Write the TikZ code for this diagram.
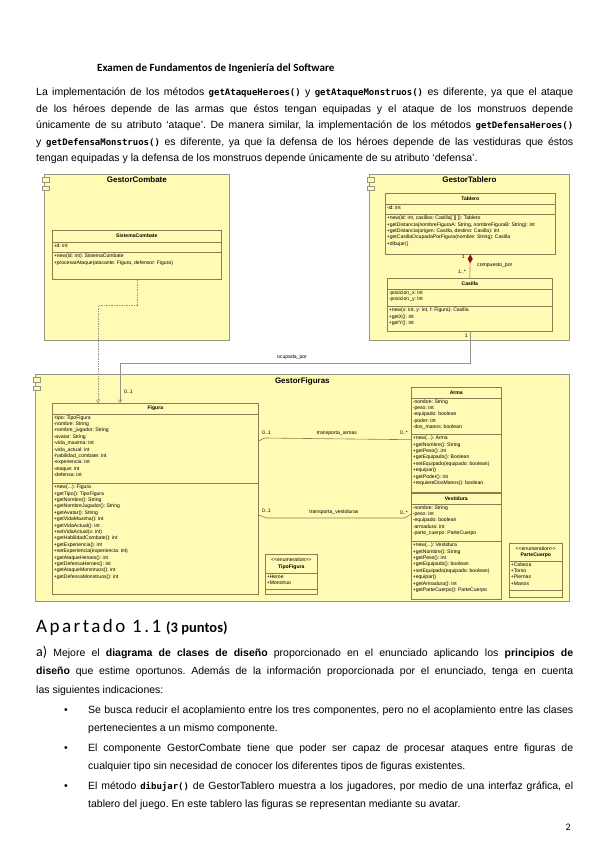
\documentclass[tikz,border=0pt]{standalone}
\usepackage{fontspec}
\setmainfont{Liberation Sans}
\newfontfamily\calibri{Carlito}
\newfontfamily\calibriwide[LetterSpace=13]{Carlito}
\newfontfamily\codefnt{DejaVu Sans Mono}
\usetikzlibrary{shapes.multipart, arrows.meta, positioning, calc}
\definecolor{compfill}{RGB}{255,251,180}
\definecolor{compline}{RGB}{150,150,132}
\definecolor{classline}{RGB}{140,125,80}
\definecolor{diamondred}{RGB}{140,20,25}
\DeclareRobustCommand{\code}[1]{{\codefnt\bfseries\fontsize{9}{10}\selectfont #1}}
\newcommand{\ctitle}[3]{\parbox[t][#2pt][c]{#1pt}{\centering\bfseries #3}}
\newcommand{\cbody}[3]{\parbox[t][#2pt][t]{#1pt}{\raggedright\vspace{0.5pt}\strut #3}}
\frenchspacing

\begin{document}
\begin{tikzpicture}[
    x=1pt, y=-1pt,
    comp/.style={draw=compline, fill=compfill, line width=0.7pt, anchor=north west, inner sep=0pt},
    comptitle/.style={font=\bfseries\fontsize{8}{9}\selectfont, inner sep=0pt},
    compicon/.style={draw=compline, fill=compfill, line width=0.5pt, minimum width=7pt, minimum height=4.5pt, inner sep=0pt},
    umlclass/.style={draw=classline, fill=compfill, line width=0.6pt, rectangle split, rectangle split parts=3, inner xsep=1.5pt, inner ysep=0pt, anchor=north west, font=\fontsize{5.1}{6.4}\selectfont},
    mult/.style={font=\fontsize{5.1}{6}\selectfont, inner sep=0pt},
    assoc/.style={draw=classline, line width=0.6pt},
    link/.style={draw=compline, line width=0.6pt, -{Straight Barb[length=3pt,width=4pt]}},
    dep/.style={draw=compline, dash pattern=on 1.5pt off 1pt, line width=0.6pt, -{Straight Barb[length=3pt,width=4pt]}},
    compo/.style={draw=classline, line width=0.6pt, {Diamond[length=9pt,width=5pt,fill=diamondred,color=diamondred]}-},
    body/.style={font=\fontsize{10.5}{16.4}\selectfont, align=justify, text width=537pt, inner sep=0pt, anchor=base west},
    itemtext/.style={body, text width=485pt, font=\fontsize{10.5}{18.7}\selectfont}
]
\useasboundingbox[fill=white] (0,0) rectangle (600,848);

\node[font=\calibri\bfseries\fontsize{11}{12}\selectfont, anchor=base west, inner sep=0pt] (header) at (97,72) {Examen de Fundamentos de Ingeniería del Software};

\node[body] (intro) at (36,96) {La implementación de los métodos \code{getAtaqueHeroes()} y \code{getAtaqueMonstruos()} es diferente, ya que el ataque\linebreak
de los héroes depende de las armas que éstos tengan equipadas y el ataque de los monstruos depende\linebreak
únicamente de su atributo ‘ataque’. De manera similar, la implementación de los métodos \code{getDefensaHeroes()}\linebreak
y \code{getDefensaMonstruos()} es diferente, ya que la defensa de los héroes depende de las vestiduras que éstos\linebreak
tengan equipadas y la defensa de los monstruos depende únicamente de su atributo ‘defensa’.};

\node[comp, minimum width=185pt, minimum height=166pt] (gcombate) at (44,174) {};
\node[comp, minimum width=200pt, minimum height=166pt] (gtablero) at (369,174) {};
\node[comp, minimum width=534pt, minimum height=227pt] (gfiguras) at (35,374) {};
\node[comptitle, below=3pt of gcombate.north] (gcombatet) {GestorCombate};
\node[comptitle, below=3pt of gtablero.north] (gtablerot) {GestorTablero};
\node[comptitle, below=3pt of gfiguras.north] (gfigurast) {GestorFiguras};
\foreach \c in {gcombate, gtablero, gfiguras} {
    \node[compicon] (\c-icon1) at ([shift={(1.5,5.5)}]\c.north west) {};
    \node[compicon] (\c-icon2) at ([shift={(1.5,14)}]\c.north west) {};
}

\node[umlclass] (sistema) at (52,230) {\ctitle{166}{11}{SistemaCombate}\nodepart{second}\cbody{166}{10}{-id: int}\nodepart{third}\cbody{166}{26}{+new(id: int): SistemaCombate\\+procesarAtaque(atacante: Figura, defensor: Figura)}};

\node[umlclass] (tablero) at (385,193) {\ctitle{167}{10}{Tablero}\nodepart{second}\cbody{167}{10}{-id: int}\nodepart{third}\cbody{167}{39}{+new(id: int, casillas: Casilla[ ][ ]): Tablero\\+getDistancia(nombreFiguraA: String, nombreFiguraB: String): int\\+getDistancia(origen: Casilla, destino: Casilla): int\\+getCasillaOcupadaPorFigura(nombre: String): Casilla\\+dibujar()}};

\node[umlclass] (casilla) at (387,278) {\ctitle{162}{10}{Casilla}\nodepart{second}\cbody{162}{17}{-posicion\_x: int\\-posicion\_y: int}\nodepart{third}\cbody{162}{24}{+new(x: int, y: int, f: Figura): Casilla\\+getX(): int\\+getY(): int}};

\node[umlclass] (figura) at (52,403) {\ctitle{203}{10}{Figura}\nodepart{second}\cbody{203}{69}{-tipo: TipoFigura\\-nombre: String\\-nombre\_jugador: String\\-avatar: String\\-vida\_maxima: int\\-vida\_actual: int\\-habilidad\_combate: int\\-experiencia: int\\-ataque: int\\-defensa: int}\nodepart{third}\cbody{203}{110}{+new(...): Figura\\+getTipo(): TipoFigura\\+getNombre(): String\\+getNombreJugador(): String\\+getAvatar(): String\\+getVidaMaxima(): int\\+getVidaActual(): int\\+setVidaActual(v: int)\\+getHabilidadCombate(): int\\+getExperiencia(): int\\+setExperiencia(experiencia: int)\\+getAtaqueHeroes(): int\\+getDefensaHeroes(): int\\+getAtaqueMonstruos(): int\\+getDefensaMonstruos(): int}};

\node[umlclass] (arma) at (411,387) {\ctitle{87}{10}{Arma}\nodepart{second}\cbody{87}{36}{-nombre: String\\-peso: int\\-equipado: boolean\\-poder: int\\-dos\_manos: boolean}\nodepart{third}\cbody{87}{57}{+new(...): Arma\\+getNombre(): String\\+getPeso(): int\\+getEquipado(): Boolean\\+setEquipado(equipado: boolean)\\+equipar()\\+getPoder(): int\\+requiereDosManos(): boolean}};

\node[umlclass] (vestidura) at (411,493) {\ctitle{87}{10}{Vestidura}\nodepart{second}\cbody{87}{37}{-nombre: String\\-peso: int\\-equipado: boolean\\-armadura: int\\-parte\_cuerpo: ParteCuerpo}\nodepart{third}\cbody{87}{57}{+new(...): Vestidura\\+getNombre(): String\\+getPeso(): int\\+getEquipado(): boolean\\+setEquipado(equipado: boolean)\\+equipar()\\+getArmadura(): int\\+getParteCuerpo(): ParteCuerpo}};

\node[umlclass] (tipofigura) at (265,554) {\ctitle{49}{18}{\mdseries <{}<enumeration>{}>\\\bfseries TipoFigura}\nodepart{second}\cbody{49}{16}{+Heroe\\+Monstruo}\nodepart{third}\cbody{49}{4}{}};

\node[umlclass] (partecuerpo) at (509,543) {\ctitle{50}{17}{\mdseries <{}<enumeration>{}>\\\bfseries ParteCuerpo}\nodepart{second}\cbody{50}{29}{+Cabeza\\+Torso\\+Piernas\\+Manos}\nodepart{third}\cbody{50}{6}{}};

\draw[dep] (sistema.south) -- ++(0,26) -| ([xshift=46pt]figura.north west);

\draw[compo] (tablero.south) -- (casilla.north);
\node[mult, anchor=east] (mtab) at (465,257) {1};
\node[mult, anchor=east] (mcas) at (466,272) {1..*};
\node[mult, anchor=west] (compuesto) at (477,265) {compuesto\_por};

\draw[link] (casilla.south) -- ++(0,32) -| ([xshift=68pt]figura.north west);
\node[mult, anchor=north east] (mocup1) at ([shift={(-2pt,-2pt)}]casilla.south) {1};
\node[mult] (ocupada) at (292,357) {ocupada\_por};
\node[mult, anchor=west] (mocup2) at (124,392) {0..1};

\draw[assoc] ([yshift=-38pt]figura.north east) -- ++(6,-3) -- (arma.west);
\node[mult, anchor=west] (marm1) at (262,433) {0..1};
\node[mult] (transarmas) at (337,433) {transporta\_armas};
\node[mult, anchor=east] (marm2) at (408,433) {0..*};

\draw[assoc] ([yshift=-112pt]figura.north east) -- ++(8,3) -- ++(138,0) -- ([yshift=32pt]vestidura.west);
\node[mult, anchor=west] (mves1) at (262,511) {0..1};
\node[mult] (transvest) at (334,512) {transporta\_vestiduras};
\node[mult, anchor=east] (mves2) at (408,513) {0..*};

\node[anchor=base west, inner sep=0pt] (apartado) at (36,632) {{\calibriwide\fontsize{19}{21}\selectfont Apartado 1.1}\hspace{5pt}{\calibri\bfseries\fontsize{14.5}{16}\selectfont (3 puntos)}};

\node[body, font=\fontsize{10.5}{18.7}\selectfont] (parta) at (36,656) {{\calibri\fontsize{14}{15}\selectfont a)} Mejore el \textbf{diagrama de clases de diseño} proporcionado en el enunciado aplicando los \textbf{principios de}\linebreak
\textbf{diseño} que estime oportunos. Además de la información proporcionada por el enunciado, tenga en cuenta\linebreak
las siguientes indicaciones:};

\node[itemtext] (item1) at (88,713) {Se busca reducir el acoplamiento entre los tres componentes, pero no el acoplamiento entre las clases\linebreak
pertenecientes a un mismo componente.};
\node[itemtext] (item2) at (88,751) {El componente GestorCombate tiene que poder ser capaz de procesar ataques entre figuras de\linebreak
cualquier tipo sin necesidad de conocer los diferentes tipos de figuras existentes.};
\node[itemtext] (item3) at (88,789) {El método \code{dibujar()} de GestorTablero muestra a los jugadores, por medio de una interfaz gráfica, el\linebreak
tablero del juego. En este tablero las figuras se representan mediante su avatar.};
\foreach \i in {item1, item2, item3} {
    \node[anchor=base, inner sep=0pt, font=\fontsize{10.5}{12}\selectfont] (\i-bullet) at ([xshift=-22pt]\i.base west) {•};
}

\node[font=\calibri\fontsize{10}{12}\selectfont, anchor=base east, inner sep=0pt] (pagenum) at (571,830) {2};
\end{tikzpicture}
\end{document}
